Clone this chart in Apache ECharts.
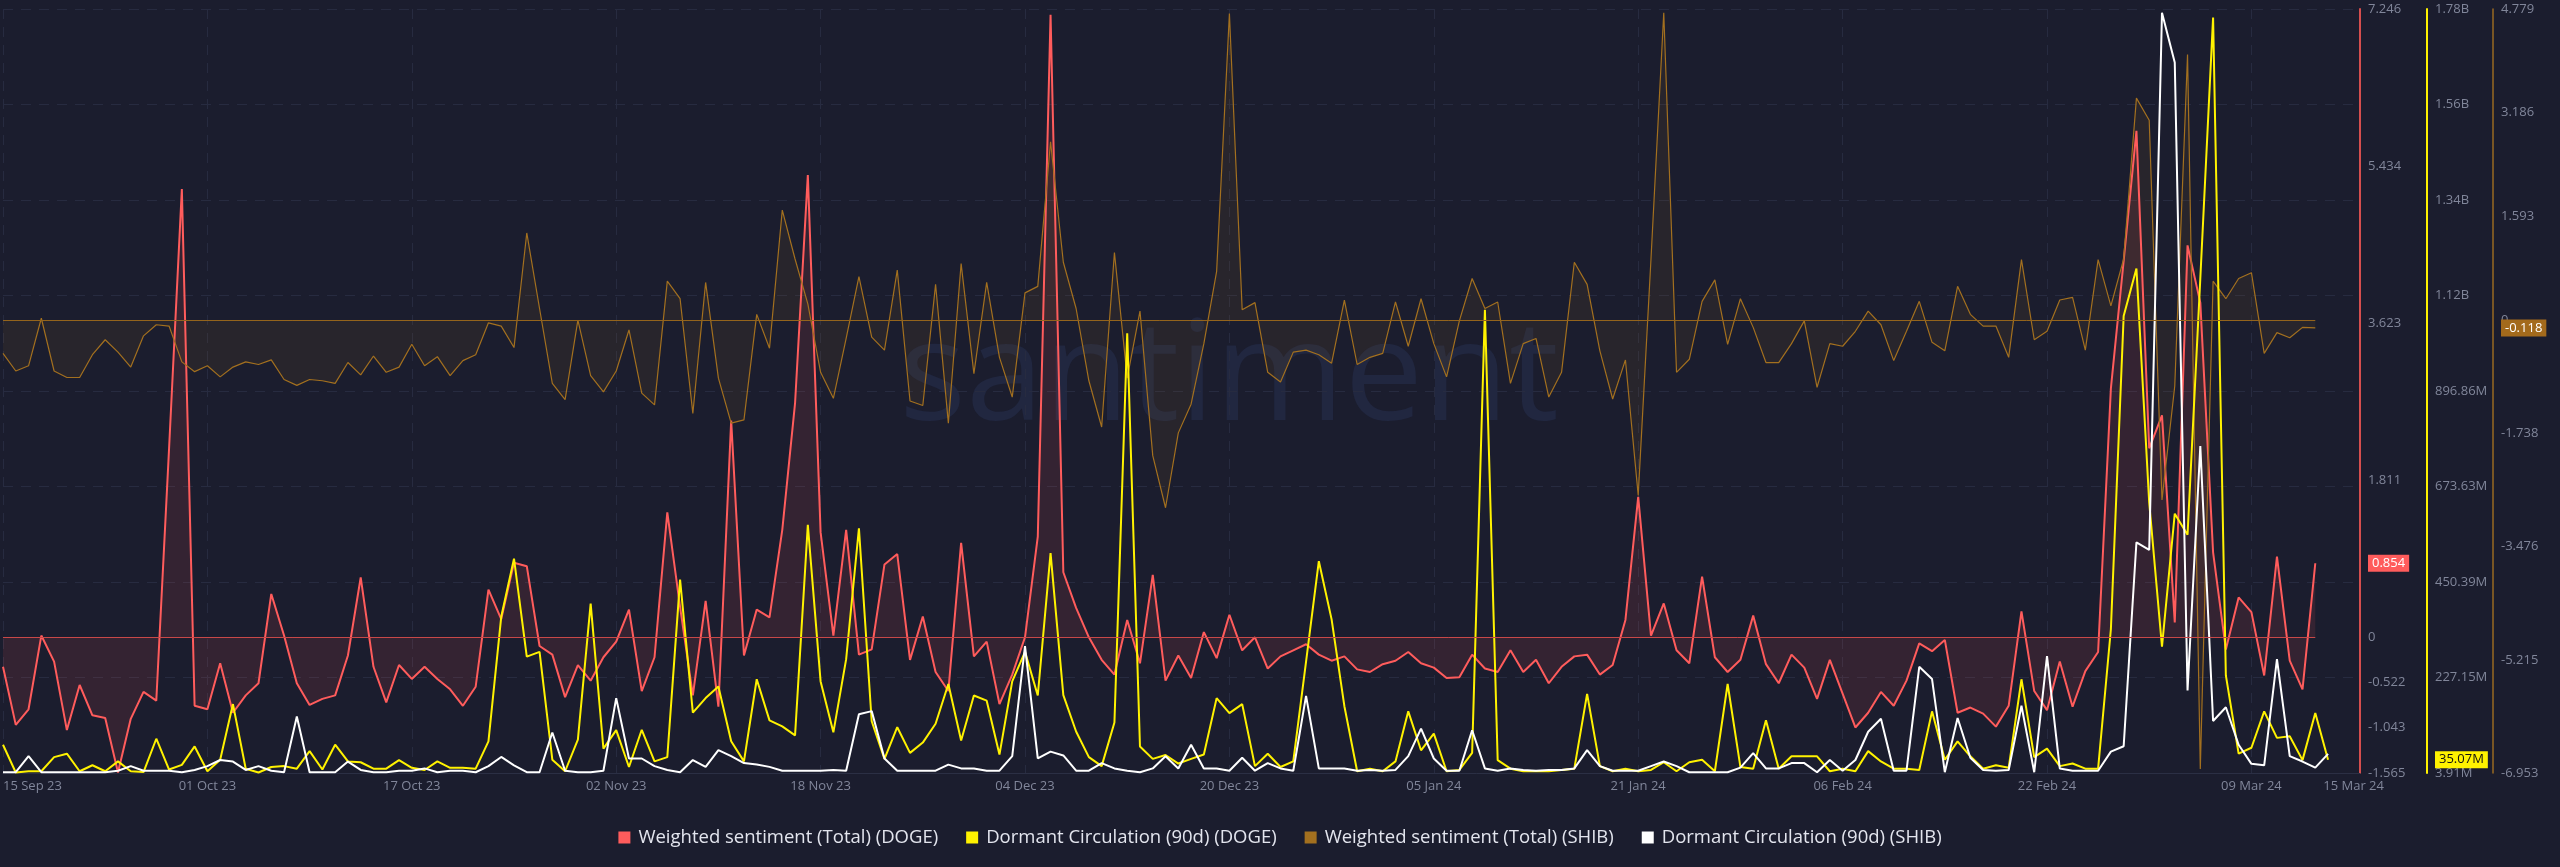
<!DOCTYPE html>
<html>
<head>
<meta charset="utf-8">
<title>Weighted sentiment / Dormant circulation - DOGE vs SHIB</title>
<script src="https://cdn.jsdelivr.net/npm/echarts@6/dist/echarts.min.js"></script>
<style>
  html, body { margin: 0; padding: 0; background: #1b1d2e; }
  #chart { width: 2560px; height: 867px; }
</style>
</head>
<body>
<div id="chart"></div>
<script>
// day 0 = 15 Sep 23, one value per day
const xLabelDays = [0, 16, 32, 48, 64, 80, 96, 112, 128, 144, 160, 176, 184];
const xLabelText = ["15 Sep 23", "01 Oct 23", "17 Oct 23", "02 Nov 23", "18 Nov 23", "04 Dec 23",
    "20 Dec 23", "05 Jan 24", "21 Jan 24", "06 Feb 24", "22 Feb 24", "09 Mar 24", "15 Mar 24"];

// Weighted sentiment (Total) (DOGE)
const dogeSentiment = [
    -0.34, -1.01, -0.83, 0.02, -0.28, -1.07, -0.55, -0.90, -0.93, -1.56,
    -0.94, -0.63, -0.73, 2.18, 5.17, -0.79, -0.83, -0.30, -0.87, -0.67,
    -0.53, 0.50, 0.02, -0.53, -0.78, -0.71, -0.67, -0.21, 0.69, -0.34,
    -0.75, -0.32, -0.48, -0.34, -0.48, -0.60, -0.79, -0.57, 0.55, 0.21,
    0.86, 0.82, -0.10, -0.20, -0.69, -0.32, -0.50, -0.23, -0.05, 0.32,
    -0.62, -0.23, 1.44, 0.35, -0.67, 0.42, -0.80, 2.50, -0.21, 0.32,
    0.23, 1.24, 2.70, 5.33, 1.21, 0.02, 1.24, -0.20, -0.14, 0.84,
    0.96, -0.26, 0.24, -0.40, -0.62, 1.09, -0.22, -0.05, -0.77, -0.43,
    0.00, 1.16, 7.18, 0.75, 0.34, 0.00, -0.26, -0.43, 0.20, -0.30,
    0.72, -0.50, -0.21, -0.47, 0.06, -0.24, 0.26, -0.15, 0.00, -0.36,
    -0.22, -0.15, -0.08, -0.20, -0.27, -0.22, -0.37, -0.40, -0.31, -0.27,
    -0.17, -0.30, -0.35, -0.47, -0.46, -0.20, -0.36, -0.40, -0.15, -0.40,
    -0.26, -0.53, -0.34, -0.22, -0.20, -0.43, -0.32, 0.20, 1.62, 0.02,
    0.39, -0.15, -0.30, 0.70, -0.23, -0.40, -0.26, 0.25, -0.31, -0.53,
    -0.20, -0.35, -0.71, -0.26, -0.65, -1.04, -0.87, -0.63, -0.79, -0.50,
    -0.07, -0.16, -0.03, -0.87, -0.81, -0.88, -1.03, -0.79, 0.30, -0.62,
    -0.84, -0.28, -0.80, -0.39, -0.17, 2.87, 4.34, 5.84, 2.18, 2.56,
    0.17, 4.52, 3.86, 0.98, -0.14, 0.46, 0.29, -0.44, 0.93, -0.27,
    -0.60, 0.854
];

// Dormant Circulation (90d) (DOGE), millions
const dogeDormant = [
    70, 5, 8, 8, 41, 49, 8, 22, 8, 31,
    8, 6, 84, 12, 23, 66, 8, 35, 165, 14,
    5, 18, 20, 14, 55, 12, 70, 31, 29, 14,
    14, 34, 16, 11, 31, 16, 16, 14, 78, 369,
    505, 276, 287, 35, 8, 82, 400, 61, 104, 18,
    105, 31, 41, 456, 145, 179, 206, 78, 31, 223,
    127, 113, 92, 584, 218, 99, 270, 576, 125, 37,
    111, 51, 75, 119, 212, 80, 185, 173, 47, 218,
    287, 185, 518, 186, 101, 41, 20, 122, 1032, 66,
    37, 46, 26, 37, 47, 179, 144, 165, 20, 49,
    18, 31, 264, 499, 363, 160, 8, 14, 8, 31,
    148, 57, 96, 8, 11, 51, 1087, 34, 14, 8,
    8, 8, 11, 14, 189, 20, 8, 14, 8, 11,
    29, 8, 29, 35, 8, 212, 18, 14, 127, 14,
    43, 43, 43, 8, 14, 8, 55, 31, 14, 14,
    11, 148, 35, 78, 43, 14, 22, 16, 223, 41,
    61, 20, 26, 14, 14, 340, 1072, 1183, 636, 299,
    610, 561, 1160, 1770, 232, 49, 63, 148, 86, 90,
    34, 144, 35.07
];

// Weighted sentiment (Total) (SHIB)
const shibSentiment = [
    -0.51, -0.78, -0.70, 0.03, -0.78, -0.88, -0.88, -0.53, -0.30, -0.49,
    -0.72, -0.24, -0.07, -0.09, -0.64, -0.79, -0.70, -0.87, -0.72, -0.64,
    -0.68, -0.61, -0.91, -1.00, -0.91, -0.93, -0.97, -0.65, -0.84, -0.55,
    -0.80, -0.72, -0.37, -0.70, -0.56, -0.85, -0.62, -0.53, -0.04, -0.09,
    -0.42, 1.34, 0.18, -0.97, -1.22, 0.00, -0.85, -1.10, -0.78, -0.15,
    -1.12, -1.30, 0.60, 0.33, -1.43, 0.58, -0.89, -1.58, -1.53, 0.09,
    -0.43, 1.69, 0.94, 0.25, -0.80, -1.20, -0.28, 0.67, -0.26, -0.46,
    0.77, -1.24, -1.31, 0.55, -1.58, 0.87, -0.82, 0.58, -0.57, -1.18,
    0.42, 0.52, 2.74, 0.89, 0.18, -0.93, -1.64, 1.04, -0.89, 0.14,
    -2.08, -2.88, -1.73, -1.29, -0.36, 0.75, 4.71, 0.16, 0.27, -0.80,
    -0.95, -0.49, -0.46, -0.53, -0.66, 0.31, -0.68, -0.57, -0.51, 0.28,
    -0.40, 0.33, -0.36, -0.87, -0.01, 0.64, 0.18, 0.28, -0.97, -0.36,
    -0.28, -1.18, -0.80, 0.89, 0.55, -0.47, -1.21, -0.61, -2.69, 0.94,
    4.72, -0.80, -0.60, 0.29, 0.62, -0.37, 0.33, -0.11, -0.65, -0.65,
    -0.36, -0.01, -1.03, -0.36, -0.40, -0.17, 0.14, -0.07, -0.62, -0.17,
    0.29, -0.34, -0.47, 0.52, 0.09, -0.09, -0.09, -0.57, 0.93, -0.30,
    -0.17, 0.31, 0.35, -0.46, 0.93, 0.22, 0.94, 3.41, 3.07, -2.76,
    -1.01, 4.08, -6.89, 0.60, 0.33, 0.64, 0.73, -0.51, -0.19, -0.27,
    -0.11, -0.118
];

// Dormant Circulation (90d) (SHIB), trillions (axis hidden)
const shibDormant = [
    0.1, 0.1, 2.2, 0.1, 0.1, 0.1, 0.1, 0.1, 0.1, 0.3,
    0.9, 0.3, 0.3, 0.3, 0.1, 0.4, 0.9, 1.7, 1.5, 0.4,
    0.9, 0.3, 0.1, 7.4, 0.1, 0.1, 0.1, 1.5, 0.4, 0.1,
    0.1, 0.3, 0.3, 0.6, 0.1, 0.3, 0.3, 0.1, 0.9, 2.1,
    1.0, 0.1, 0.1, 5.3, 0.3, 0.1, 0.1, 0.3, 9.8, 1.9,
    1.9, 0.9, 0.4, 0.1, 1.7, 0.8, 3.0, 2.2, 1.3, 1.1,
    0.8, 0.3, 0.3, 0.3, 0.3, 0.4, 0.3, 7.7, 8.1, 1.9,
    0.3, 0.3, 0.3, 0.3, 1.1, 0.6, 0.6, 0.3, 0.3, 2.2,
    16.6, 1.9, 2.8, 2.3, 0.3, 0.3, 1.3, 0.6, 0.3, 0.1,
    0.6, 2.2, 0.6, 3.7, 0.6, 0.6, 0.3, 2.0, 0.3, 1.3,
    0.6, 0.3, 10.1, 0.6, 0.6, 0.6, 0.3, 0.4, 0.3, 0.4,
    2.2, 5.8, 1.9, 0.3, 0.3, 5.6, 0.6, 0.3, 0.6, 0.4,
    0.3, 0.4, 0.4, 0.6, 3.0, 0.9, 0.3, 0.3, 0.3, 0.9,
    1.5, 0.9, 0.1, 0.1, 0.1, 0.1, 0.7, 2.6, 0.6, 0.6,
    1.3, 1.3, 0.1, 1.7, 0.3, 1.7, 5.4, 7.1, 0.3, 0.3,
    13.9, 12.3, 0.1, 7.2, 2.0, 0.4, 0.3, 0.4, 8.8, 0.1,
    15.3, 0.6, 0.3, 0.3, 0.3, 2.8, 3.5, 30.2, 29.2, 99.5,
    93.0, 10.8, 42.8, 6.8, 8.6, 3.7, 1.2, 1.0, 14.9, 2.2,
    1.5, 0.7, 2.5
];

// right-hand axis tick labels
const dogeSentTicks = [-1.565, -1.043, -0.522, 0, 1.811, 3.623, 5.434, 7.246];
const dogeSentTickLabels = ["-1.565", "-1.043", "-0.522", "0", "1.811", "3.623", "5.434", "7.246"];
const dogeDormTicks = [3.91, 227.15, 450.39, 673.63, 896.86, 1120.1, 1343.34, 1566.58, 1789.82];
const dogeDormTickLabels = ["3.91M", "227.15M", "450.39M", "673.63M", "896.86M", "1.12B", "1.34B", "1.56B", "1.78B"];
const shibSentTicks = [-6.953, -5.215, -3.476, -1.738, 0, 1.593, 3.186, 4.779];
const shibSentTickLabels = ["-6.953", "-5.215", "-3.476", "-1.738", "0", "1.593", "3.186", "4.779"];

const seriesNames = [
    "Weighted sentiment (Total) (DOGE)",
    "Dormant Circulation (90d) (DOGE)",
    "Weighted sentiment (Total) (SHIB)",
    "Dormant Circulation (90d) (SHIB)"
];

const RED = "#ff5c5c";
const YELLOW = "#fff200";
const BROWN = "#a3701f";
const WHITE = "#ffffff";
const LABEL_GREY = "#81869a";
const FONT = "'Open Sans', 'Noto Sans', sans-serif";

function toPoints(values) {
    return values.map((v, i) => [i, v]);
}

function lookupLabel(ticks, labels) {
    return function (value) {
        for (let i = 0; i < ticks.length; i++) {
            if (Math.abs(ticks[i] - value) < 1e-6) return labels[i];
        }
        return "";
    };
}

function lastOf(arr) {
    return arr[arr.length - 1];
}

function zeroLine(values, color) {
    return {
        silent: true,
        symbol: "none",
        label: { show: false },
        lineStyle: { color: color, width: 1, type: "solid" },
        data: [[{ coord: [0, 0] }, { coord: [values.length - 1, 0] }]]
    };
}

// axis labels plus a coloured tag at the series' last value
function tagAxisLabel(ticks, labels, lastValue, tagText, bg, fg) {
    const values = ticks.concat([lastValue]);
    const texts = labels.concat(["{tag|" + tagText + "}"]);
    return {
        customValues: values,
        formatter: lookupLabel(values, texts),
        color: LABEL_GREY,
        fontSize: 13,
        fontFamily: FONT,
        margin: 8,
        rich: {
            tag: {
                backgroundColor: bg,
                color: fg,
                fontSize: 13,
                fontFamily: FONT,
                padding: [2, 4, 2, 4]
            }
        }
    };
}

function rightAxisLine(color, width) {
    return { show: true, onZero: false, lineStyle: { color: color, width: width } };
}

const chart = echarts.init(document.getElementById("chart"), null, { renderer: "canvas" });

chart.setOption({
    backgroundColor: "#1b1d2e",
    animation: false,
    graphic: [{
        type: "text",
        x: 1229,
        y: 380,
        z: -10,
        silent: true,
        style: {
            text: "santiment",
            fontSize: 140,
            fontFamily: FONT,
            fill: "#212740",
            textAlign: "center",
            textVerticalAlign: "middle"
        }
    }],
    grid: { left: 0, right: 200, top: 9, bottom: 94 },
    legend: {
        top: 823,
        left: "center",
        icon: "rect",
        itemWidth: 12,
        itemHeight: 12,
        itemGap: 28,
        textStyle: { color: "#e3e5ee", fontSize: 18.5, fontFamily: FONT, padding: [0, 0, 0, 3] },
        data: seriesNames
    },
    xAxis: {
        type: "value",
        min: 0,
        max: 184.5,
        interval: 16,
        axisLine: { show: true, onZero: false, lineStyle: { color: "#2b2f44", width: 1 } },
        axisTick: { show: false },
        splitLine: { show: true, lineStyle: { color: "#272b40", width: 1, type: [10, 8] } },
        axisLabel: {
            customValues: xLabelDays,
            formatter: lookupLabel(xLabelDays, xLabelText),
            alignMinLabel: "left",
            color: LABEL_GREY,
            fontSize: 13,
            fontFamily: FONT,
            margin: 7
        }
    },
    yAxis: [
        {
            type: "value",
            position: "right",
            offset: 0,
            min: -1.565,
            max: 7.246,
            axisLine: rightAxisLine("#d54e4e", 2),
            axisTick: { show: false },
            splitLine: { show: false },
            axisLabel: tagAxisLabel(dogeSentTicks, dogeSentTickLabels,
                lastOf(dogeSentiment), lastOf(dogeSentiment).toFixed(3), RED, "#ffffff")
        },
        {
            type: "value",
            position: "right",
            offset: 67,
            min: 3.91,
            max: 1789.82,
            axisLine: rightAxisLine(YELLOW, 2),
            axisTick: { show: false },
            splitLine: { show: false },
            axisLabel: tagAxisLabel(dogeDormTicks, dogeDormTickLabels,
                lastOf(dogeDormant), lastOf(dogeDormant).toFixed(2) + "M", YELLOW, "#111111")
        },
        {
            type: "value",
            position: "right",
            offset: 133,
            min: -6.953,
            max: 4.779,
            axisLine: rightAxisLine("#9a6a22", 1.5),
            axisTick: { show: false },
            splitLine: { show: false },
            axisLabel: tagAxisLabel(shibSentTicks, shibSentTickLabels,
                lastOf(shibSentiment), lastOf(shibSentiment).toFixed(3), "#a36a1c", "#ffffff")
        },
        {
            // hidden scale for SHIB dormant circulation; also carries the horizontal grid
            type: "value",
            position: "left",
            min: 0,
            max: 100,
            interval: 12.5,
            axisLine: { show: false, onZero: false },
            axisTick: { show: false },
            axisLabel: { show: false },
            splitLine: { show: true, lineStyle: { color: "#272b40", width: 1, type: [10, 8] } }
        }
    ],
    series: [
        {
            name: seriesNames[0],
            type: "line",
            yAxisIndex: 0,
            data: toPoints(dogeSentiment),
            showSymbol: false,
            z: 2,
            lineStyle: { color: RED, width: 2 },
            itemStyle: { color: RED },
            areaStyle: { color: "rgba(255, 92, 92, 0.16)", origin: "auto" },
            markLine: zeroLine(dogeSentiment, "#c84848")
        },
        {
            name: seriesNames[1],
            type: "line",
            yAxisIndex: 1,
            data: toPoints(dogeDormant),
            showSymbol: false,
            z: 3,
            lineStyle: { color: YELLOW, width: 2 },
            itemStyle: { color: YELLOW }
        },
        {
            name: seriesNames[2],
            type: "line",
            yAxisIndex: 2,
            data: toPoints(shibSentiment),
            showSymbol: false,
            z: 2,
            lineStyle: { color: BROWN, width: 1.2 },
            itemStyle: { color: BROWN },
            areaStyle: { color: "rgba(163, 112, 31, 0.14)", origin: "auto" },
            markLine: zeroLine(shibSentiment, "#94641c")
        },
        {
            name: seriesNames[3],
            type: "line",
            yAxisIndex: 3,
            data: toPoints(shibDormant),
            showSymbol: false,
            z: 4,
            lineStyle: { color: WHITE, width: 2 },
            itemStyle: { color: WHITE }
        }
    ]
});
</script>
</body>
</html>
